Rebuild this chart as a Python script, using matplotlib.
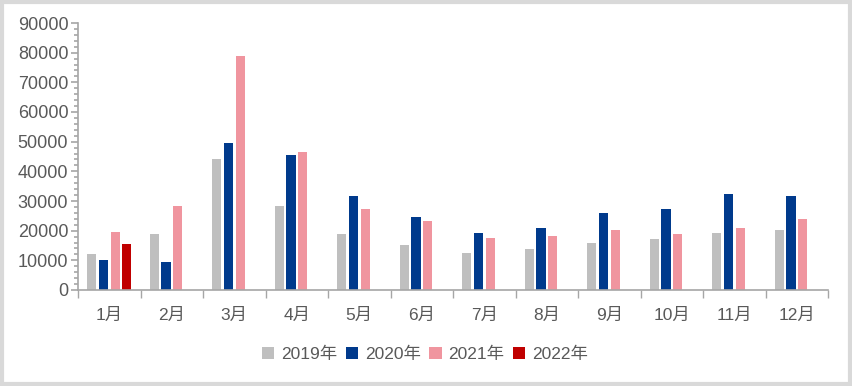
import numpy as np
import matplotlib
matplotlib.use('Agg')
import matplotlib.pyplot as plt
from matplotlib.patches import Rectangle
from matplotlib.ticker import MultipleLocator

plt.rcParams['font.family'] = ['Liberation Sans', 'Noto Sans CJK SC', 'DejaVu Sans']

# 月份与各年数据
months = ['1月', '2月', '3月', '4月', '5月', '6月', '7月', '8月', '9月', '10月', '11月', '12月']
years = ['2019年', '2020年', '2021年', '2022年']
v2019 = [12000, 18900, 44100, 28300, 18900, 15200, 12500, 13800, 15800, 17200, 19200, 20200]
v2020 = [10100, 9400, 49500, 45500, 31700, 24600, 19200, 20900, 26000, 27300, 32400, 31700]
v2021 = [19500, 28300, 78900, 46500, 27300, 23300, 17500, 18200, 20200, 18900, 20900, 23900]
v2022 = [15500]
colors = ['#bfbfbf', '#003a8c', '#f0959f', '#c00000']

text_c = '#595959'
axis_c = '#a6a6a6'

fig = plt.figure(figsize=(8.52, 3.86), dpi=100)
ax = fig.add_axes([78 / 852, 1 - 290 / 386, 750 / 852, 267 / 386])

x = np.arange(len(months))
step = 0.185
width = 0.145
for i, (vals, c, lab) in enumerate(zip([v2019, v2020, v2021, v2022], colors, years)):
    xs = x[:len(vals)] + (i - 1.5) * step
    ax.bar(xs, vals, width=width, color=c, label=lab)

ax.set_xlim(-0.5, len(months) - 0.5)
ax.set_ylim(0, 90000)
ax.yaxis.set_major_locator(MultipleLocator(10000))
ax.yaxis.set_minor_locator(MultipleLocator(2000))

ax.set_xticks(x)
ax.set_xticklabels(months)
ax.set_xticks(np.arange(-0.5, len(months)), minor=True)
ax.tick_params(axis='x', which='major', length=0, pad=13, labelsize=12.5, labelcolor=text_c)
ax.tick_params(axis='x', which='minor', length=6, color=axis_c, width=1)
ax.tick_params(axis='y', which='major', length=5, color=axis_c, width=1.2,
               labelsize=13, labelcolor=text_c, pad=2)
ax.tick_params(axis='y', which='minor', length=3, color=axis_c, width=1.2)

for s in ['top', 'right']:
    ax.spines[s].set_visible(False)
for s in ['left', 'bottom']:
    ax.spines[s].set_color(axis_c)
    ax.spines[s].set_linewidth(1.2)

leg = fig.legend(loc='center', bbox_to_anchor=(425 / 852, 1 - 354 / 386), ncol=4,
                 frameon=False, fontsize=12.5, handlelength=0.7, handleheight=0.7,
                 handletextpad=0.4, columnspacing=0.5)
for t in leg.get_texts():
    t.set_color(text_c)

# 外框
fig.patches.append(Rectangle((0.002, 0.004), 0.996, 0.992, transform=fig.transFigure,
                             fill=False, edgecolor='#d9d9d9', linewidth=3))

fig.savefig('out.png', dpi=100)
